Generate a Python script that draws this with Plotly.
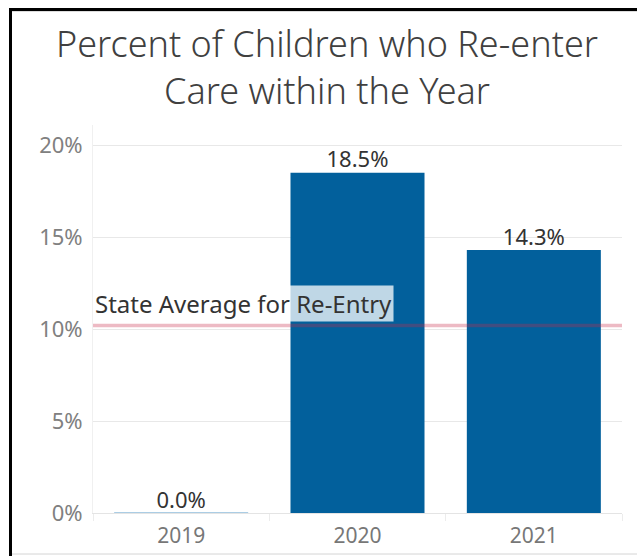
import plotly.graph_objects as go

years = ["2019", "2020", "2021"]
pct_reentry = [0.0, 18.5, 14.3]
state_avg = 10.2
y_ticks = [0, 5, 10, 15, 20]
y_tick_labels = ["0%", "5%", "10%", "15%", "20%"]

BAR_COLOR = "#02609c"
ZERO_COLOR = "#8fbcdb"
BAR_W = 0.76
FONT = "Noto Sans"

W, H = 637, 556
L, R, T, B = 93, 622, 125, 513

fig = go.Figure()
fig.add_trace(go.Bar(
    x=years, y=pct_reentry, width=BAR_W,
    marker=dict(color=BAR_COLOR, line=dict(width=0)),
    hoverinfo="skip",
))
fig.add_trace(go.Scatter(
    x=years, y=pct_reentry, mode="text",
    text=[f"{v:.1f}%" for v in pct_reentry],
    textposition="top center",
    textfont=dict(family=FONT, size=22, color="#333333"),
    hoverinfo="skip",
))

# zero-height bar outline
for i, v in enumerate(pct_reentry):
    if v == 0:
        fig.add_shape(type="line", xref="x", yref="y",
                      x0=i - BAR_W / 2, x1=i + BAR_W / 2, y0=v, y1=v,
                      line=dict(color=ZERO_COLOR, width=1.5), layer="above")

# state average reference line
fig.add_shape(type="line", xref="paper", yref="y", x0=0, x1=1,
              y0=state_avg, y1=state_avg,
              line=dict(color="rgba(200,40,70,0.32)", width=3.5), layer="above")
fig.add_annotation(x=0, xref="paper", xanchor="left", y=state_avg, yref="y",
                   yanchor="bottom", yshift=3, xshift=0,
                   text="State Average for Re-Entry", showarrow=False,
                   font=dict(family=FONT, size=24, color="#333333"),
                   bgcolor="rgba(255,255,255,0.75)", borderpad=1)

def px(xp):
    return (xp - L) / (R - L)
def py(yp):
    return (B - yp) / (B - T)
# frame: black top and left, light grey inner/bottom edges
fig.add_shape(type="line", xref="paper", yref="paper",
              x0=px(12), x1=px(W + 5), y0=py(11.3), y1=py(11.3),
              line=dict(color="#d4d4d4", width=1), layer="above")
fig.add_shape(type="line", xref="paper", yref="paper",
              x0=px(12), x1=px(W + 5), y0=py(554), y1=py(554),
              line=dict(color="#d4d4d4", width=1), layer="above")
fig.add_shape(type="line", xref="paper", yref="paper",
              x0=px(10.5), x1=px(10.5), y0=py(8), y1=py(H + 5),
              line=dict(color="black", width=3), layer="above")
fig.add_shape(type="line", xref="paper", yref="paper",
              x0=px(9), x1=px(W + 5), y0=py(9.5), y1=py(9.5),
              line=dict(color="black", width=3), layer="above")

fig.update_layout(
    width=W, height=H,
    margin=dict(l=L, r=W - R, t=T, b=H - B, autoexpand=False),
    paper_bgcolor="white", plot_bgcolor="white",
    showlegend=False, bargap=1 - BAR_W,
    title=dict(text="Percent of Children who Re-enter<br>Care within the Year",
               x=327 / W, xref="container", xanchor="center",
               y=1 - 57 / H, yref="container", yanchor="top",
               font=dict(family=FONT, size=36, color="#404040", weight=300)),
    font=dict(family=FONT),
)
fig.update_yaxes(range=[0, 21.1], tickvals=y_ticks, ticktext=y_tick_labels,
                 tickfont=dict(size=22, color="#808080"), ticklabelstandoff=5,
                 automargin=False,
                 showgrid=True, gridcolor="#e8e8e8", gridwidth=1,
                 zeroline=False, showline=True, linecolor="#f0f0f0", ticks="")
fig.update_xaxes(tickfont=dict(size=21, color="#777777"), showgrid=False,
                 ticks="outside", tickson="boundaries", ticklen=7,
                 tickcolor="#ececec", tickwidth=1,
                 ticklabelstandoff=4, automargin=False,
                 showline=True, linecolor="#e4e4e4")

fig.write_html("out.html", config={"displayModeBar": False},
               post_script="document.body.style.margin='0';"
                           "document.body.style.overflow='hidden';"
                           "document.documentElement.style.overflow='hidden';")
